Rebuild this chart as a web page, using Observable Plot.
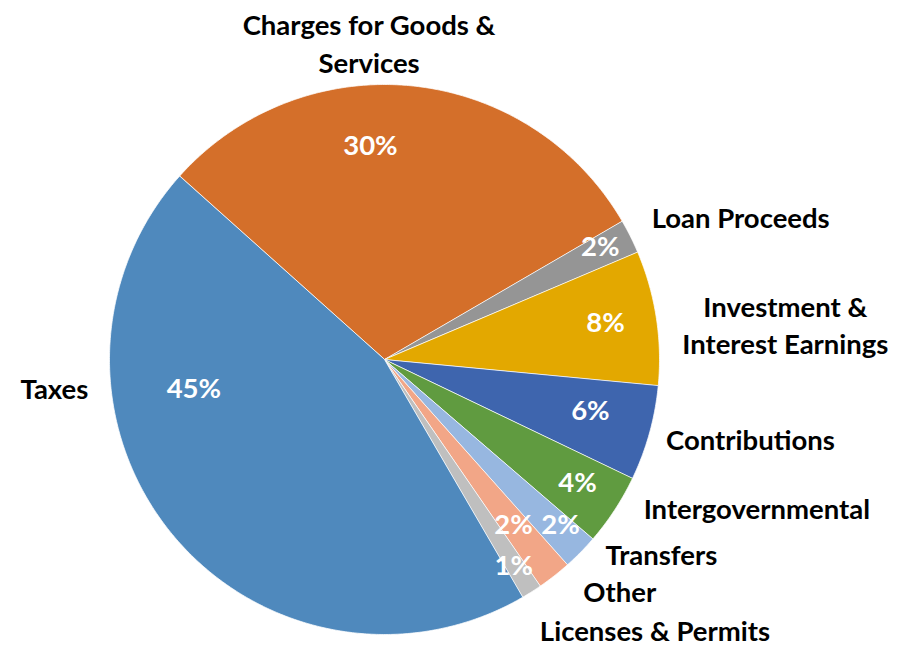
<!DOCTYPE html>
<html><head><meta charset="utf-8">
<script src="https://cdn.jsdelivr.net/npm/d3@7"></script>
<script src="https://cdn.jsdelivr.net/npm/@observablehq/plot@0.6"></script>
<style>body{margin:0;background:#fff}</style>
</head><body><div id="chart"></div>
<script>
// ---- data ----
const categories = ["Charges for Goods & Services","Loan Proceeds","Investment & Interest Earnings","Contributions","Intergovernmental","Transfers","Other","Licenses & Permits","Taxes"];
const shares = [30.0, 2.0, 7.9, 5.6, 4.2, 2.1, 2.0, 1.2, 45.0];
const percentLabels = ["30%","2%","8%","6%","4%","2%","2%","1%","45%"];
const categoryLabels = ["Charges for Goods &\nServices","Loan Proceeds","Investment &\nInterest Earnings","Contributions","Intergovernmental","Transfers","Other","Licenses & Permits","Taxes"];
const colors = ["#D46F2A","#959595","#E3A800","#3E65AE","#609B40","#97B7E0","#F2A687","#BFBFBF","#4F89BD"];

// ---- layout (best-fit label placement, polar, relative to slice mid-angle) ----
const startDeg = -48.2;
const innerRadius = [0.773, 0.883, 0.814, 0.773, 0.835, 0.882, 0.767, 0.89, 0.702];
const innerAngleShift = [-9.6, -0.7, -0.2, -1.1, -0.4, -1.0, 0.4, 0.5, 30.1];
const outerRadius = [1.150, 1.394, 1.463, 1.362, 1.459, 1.232, 1.201, 1.392, 1.205];
const outerAngleShift = [-8.6, 4.9, 3.9, -3.2, -11.3, -9.3, -7.3, -12.6, 34.2];

const slices = categories.map((name, i) => ({name, value: shares[i]}));
const start = startDeg * Math.PI / 180;
const arcs = d3.pie().sort(null).value(d => d.value).startAngle(start).endAngle(start + 2 * Math.PI)(slices);

const pts = arcs.flatMap(a => {
  const n = Math.max(2, Math.ceil((a.endAngle - a.startAngle) / (Math.PI / 360)));
  const arr = [{name: a.data.name, x: 0, y: 0}];
  for (let i = 0; i <= n; i++) {
    const t = a.startAngle + (a.endAngle - a.startAngle) * i / n;
    arr.push({name: a.data.name, x: Math.sin(t), y: -Math.cos(t)});
  }
  return arr;
});

const deg = Math.PI / 180;
const inner = arcs.map((a, i) => {
  const t = (a.startAngle + a.endAngle) / 2 + innerAngleShift[i] * deg;
  return {x: innerRadius[i] * Math.sin(t), y: -innerRadius[i] * Math.cos(t), text: percentLabels[i]};
});
const outer = arcs.map((a, i) => {
  const t = (a.startAngle + a.endAngle) / 2 + outerAngleShift[i] * deg;
  return {x: outerRadius[i] * Math.sin(t), y: -outerRadius[i] * Math.cos(t), text: categoryLabels[i]};
});

const R = 275, cx = 384, cy = 359, W = 911, H = 645;
const chart = Plot.plot({
  width: W, height: H, margin: 0,
  style: {background: "#fff"},
  x: {domain: [-cx / R, (W - cx) / R], range: [0, W], axis: null},
  y: {domain: [-cy / R, (H - cy) / R], range: [0, H], axis: null},
  color: {domain: categories, range: colors},
  marks: [
    Plot.line(pts, {x: "x", y: "y", z: "name", fill: "name", stroke: "white", strokeWidth: 0.75, curve: "linear-closed"}),
    Plot.text(inner, {x: "x", y: "y", text: "text", fill: "white", fontSize: 27.5, fontWeight: "bold", fontFamily: "Lato", dy: -1}),
    Plot.text(outer, {x: "x", y: "y", text: "text", fill: "black", fontSize: 27.5, fontWeight: "bold", fontFamily: "Lato", lineHeight: 1.35, dy: -1.5})
  ]
});
document.getElementById("chart").appendChild(chart);
</script>
</body></html>
